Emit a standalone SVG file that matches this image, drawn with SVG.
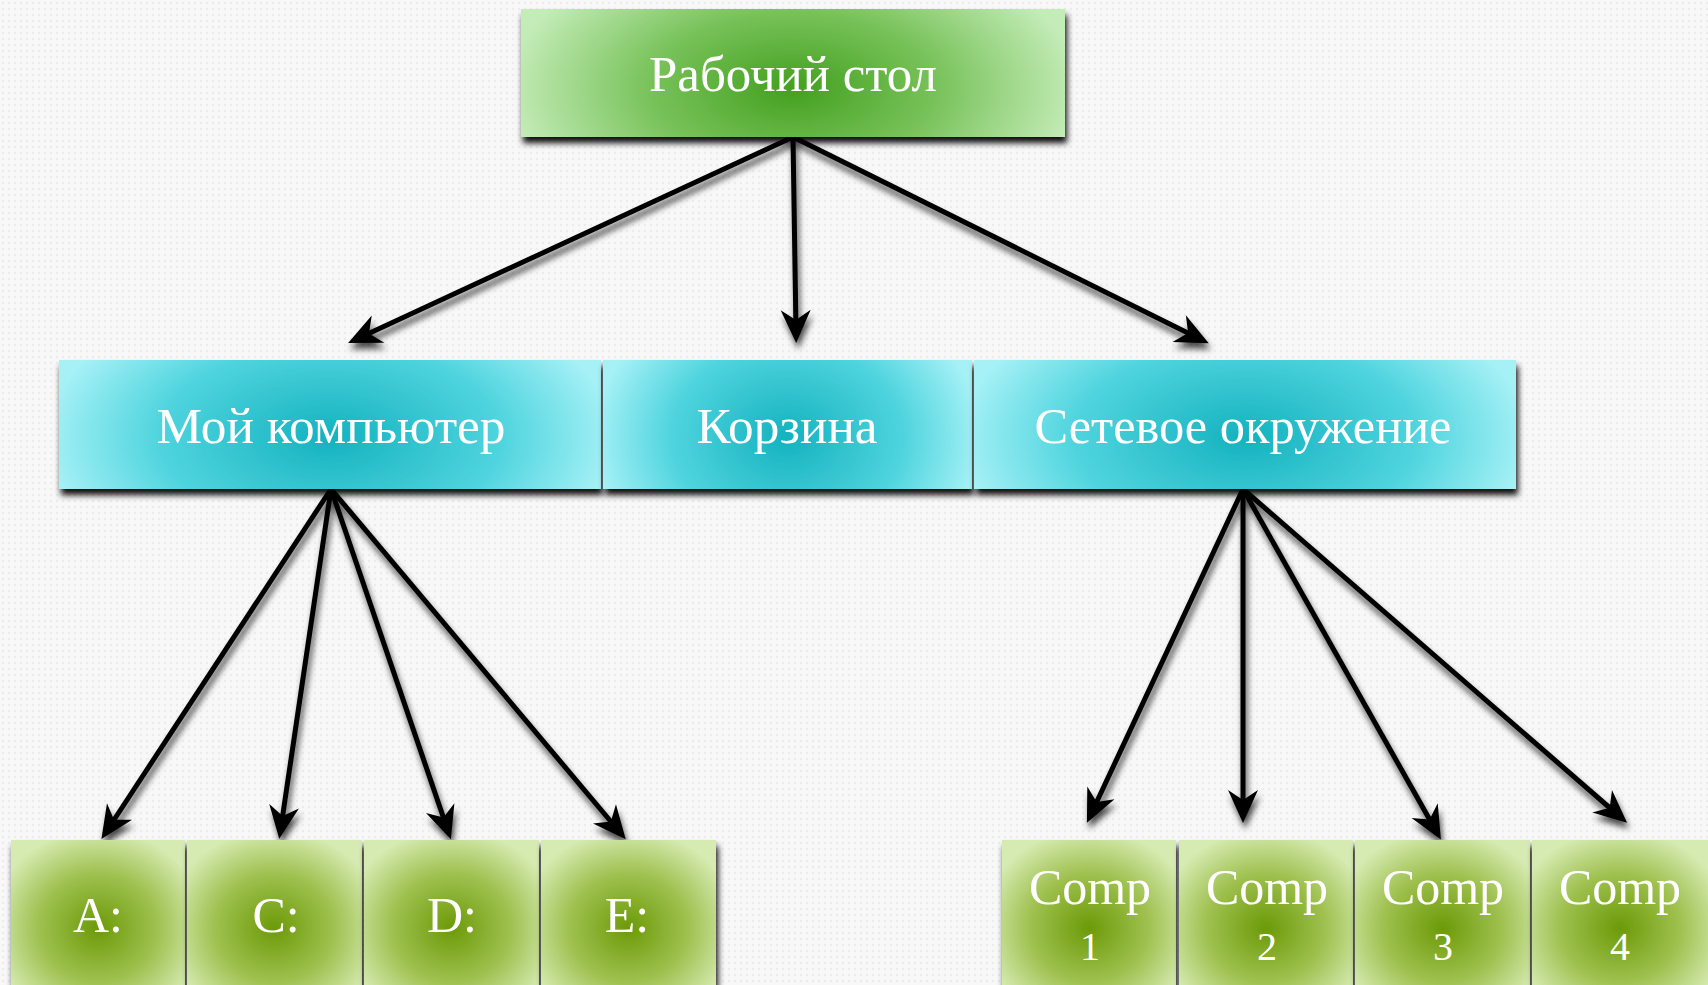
<svg xmlns="http://www.w3.org/2000/svg" width="1708" height="985" viewBox="0 0 1708 985">
  <defs>
    <pattern id="bgdots" width="6" height="6" patternUnits="userSpaceOnUse">
      <rect width="6" height="6" fill="#f8f8f8"/>
      <circle cx="3" cy="3" r="1.2" fill="#ececec"/>
    </pattern>
    <radialGradient id="gTop" cx="0.5" cy="0.62" r="0.5" gradientTransform="translate(0.5 0.62) scale(1.05 2.4) translate(-0.5 -0.62)">
      <stop offset="0" stop-color="#43a01e"/>
      <stop offset="0.5" stop-color="#78c25a"/>
      <stop offset="1" stop-color="#c4ecb8"/>
    </radialGradient>
    <radialGradient id="gMid" cx="0.5" cy="0.6" r="0.5" gradientTransform="translate(0.5 0.6) scale(1.05 2.4) translate(-0.5 -0.6)">
      <stop offset="0" stop-color="#14b2bf"/>
      <stop offset="0.6" stop-color="#4fd4de"/>
      <stop offset="1" stop-color="#a6f1f6"/>
    </radialGradient>
    <radialGradient id="gBot" cx="0.5" cy="0.55" r="0.62">
      <stop offset="0" stop-color="#6c9a08"/>
      <stop offset="0.55" stop-color="#9fc150"/>
      <stop offset="1" stop-color="#d6ebb2"/>
    </radialGradient>
    <filter id="boxShadow" x="-5%" y="-10%" width="115%" height="130%">
      <feDropShadow dx="2" dy="6" stdDeviation="3" flood-color="#000" flood-opacity="0.95"/>
    </filter>
    <filter id="lineShadow" x="-20%" y="-20%" width="140%" height="140%">
      <feDropShadow dx="2" dy="6" stdDeviation="3" flood-color="#000" flood-opacity="0.7"/>
    </filter>
    <marker id="arrow" viewBox="-36 -18 38 36" refX="-12" refY="0" markerWidth="38" markerHeight="36" markerUnits="userSpaceOnUse" orient="auto">
      <path d="M0,0 L-33,-15 L-23,0 L-33,15 Z" fill="#000"/>
    </marker>
  </defs>
  <style>
    .lbl { font-family: "Liberation Serif", "DejaVu Serif", serif; font-size: 50px; fill: #ffffff; text-anchor: middle; }
    .conn line { stroke: #000; stroke-width: 5; marker-end: url(#arrow); }
  </style>

  <rect width="1708" height="985" fill="url(#bgdots)"/>

  <g id="connectors" class="conn" filter="url(#lineShadow)">
    <line x1="793" y1="137" x2="359" y2="338"/>
    <line x1="793" y1="137" x2="796" y2="331"/>
    <line x1="793" y1="137" x2="1198" y2="338"/>
    <line x1="331" y1="489" x2="108" y2="829"/>
    <line x1="331" y1="489" x2="281" y2="827"/>
    <line x1="331" y1="489" x2="447" y2="828"/>
    <line x1="331" y1="489" x2="618" y2="830"/>
    <line x1="1243" y1="489" x2="1092" y2="812"/>
    <line x1="1243" y1="489" x2="1243" y2="811"/>
    <line x1="1243" y1="489" x2="1435" y2="829"/>
    <line x1="1243" y1="489" x2="1618" y2="815"/>
  </g>

  <g id="node-desktop">
    <rect x="521" y="9" width="544" height="128" fill="url(#gTop)" filter="url(#boxShadow)"/>
    <text class="lbl" x="793" y="91" textLength="288" lengthAdjust="spacingAndGlyphs">Рабочий стол</text>
  </g>

  <g id="node-mycomputer">
    <rect x="59" y="360" width="542" height="129" fill="url(#gMid)" filter="url(#boxShadow)"/>
    <text class="lbl" x="331" y="443" textLength="349" lengthAdjust="spacingAndGlyphs">Мой компьютер</text>
  </g>
  <g id="node-recycle">
    <rect x="603" y="360" width="369" height="129" fill="url(#gMid)" filter="url(#boxShadow)"/>
    <text class="lbl" x="787" y="443" textLength="181" lengthAdjust="spacingAndGlyphs">Корзина</text>
  </g>
  <g id="node-network">
    <rect x="974" y="360" width="542" height="129" fill="url(#gMid)" filter="url(#boxShadow)"/>
    <text class="lbl" x="1243" y="443" textLength="417" lengthAdjust="spacingAndGlyphs">Сетевое окружение</text>
  </g>

  <g id="node-a">
    <rect x="11" y="840" width="174" height="160" fill="url(#gBot)" filter="url(#boxShadow)"/>
    <text class="lbl" x="98" y="932">A:</text>
  </g>
  <g id="node-c">
    <rect x="187" y="840" width="175" height="160" fill="url(#gBot)" filter="url(#boxShadow)"/>
    <text class="lbl" x="276" y="932">C:</text>
  </g>
  <g id="node-d">
    <rect x="364" y="840" width="175" height="160" fill="url(#gBot)" filter="url(#boxShadow)"/>
    <text class="lbl" x="452" y="932">D:</text>
  </g>
  <g id="node-e">
    <rect x="541" y="840" width="175" height="160" fill="url(#gBot)" filter="url(#boxShadow)"/>
    <text class="lbl" x="627" y="932">E:</text>
  </g>

  <g id="node-comp1">
    <rect x="1002" y="840" width="174" height="160" fill="url(#gBot)" filter="url(#boxShadow)"/>
    <text class="lbl" x="1090" y="904">Comp</text>
    <text class="lbl" x="1090" y="960" style="font-size:40px">1</text>
  </g>
  <g id="node-comp2">
    <rect x="1179" y="840" width="174" height="160" fill="url(#gBot)" filter="url(#boxShadow)"/>
    <text class="lbl" x="1267" y="904">Comp</text>
    <text class="lbl" x="1267" y="960" style="font-size:40px">2</text>
  </g>
  <g id="node-comp3">
    <rect x="1355" y="840" width="175" height="160" fill="url(#gBot)" filter="url(#boxShadow)"/>
    <text class="lbl" x="1443" y="904">Comp</text>
    <text class="lbl" x="1443" y="960" style="font-size:40px">3</text>
  </g>
  <g id="node-comp4">
    <rect x="1532" y="840" width="176" height="160" fill="url(#gBot)" filter="url(#boxShadow)"/>
    <text class="lbl" x="1620" y="904">Comp</text>
    <text class="lbl" x="1620" y="960" style="font-size:40px">4</text>
  </g>
</svg>
